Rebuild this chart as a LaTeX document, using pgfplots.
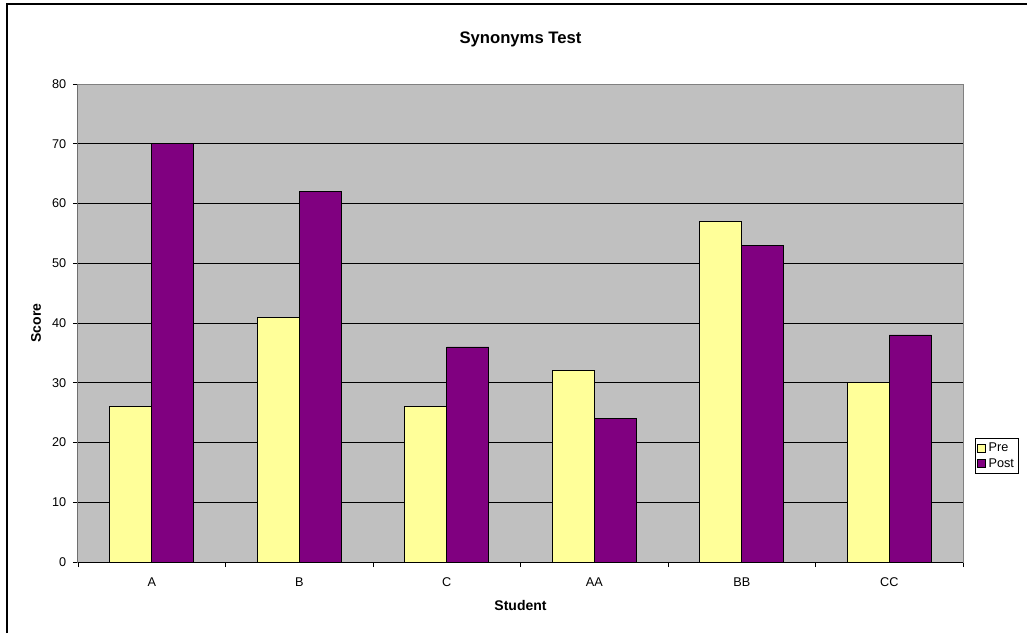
\documentclass[border=0pt]{standalone}
\usepackage{fontspec}
\setmainfont{Liberation Sans}
\usepackage{pgfplots}
\pgfplotsset{compat=1.18}
\definecolor{preY}{HTML}{FFFF99}
\definecolor{postP}{HTML}{800080}
\definecolor{bgG}{HTML}{C0C0C0}
\begin{document}
\begin{tikzpicture}
\useasboundingbox (0,0) rectangle (770.25pt,474.75pt);
\draw[line width=1.5pt] (5.25pt,0pt) -- (5.25pt,471.75pt) -- (770.25pt,471.75pt);
\begin{axis}[
  at={(58.5pt,53.25pt)}, anchor=south west,
  scale only axis, width=663.75pt, height=358.5pt,
  xmin=-0.5, xmax=5.5, ymin=0, ymax=80,
  ytick={0,10,...,80},
  xtick={0,1,2,3,4,5},
  xticklabels={A,B,C,AA,BB,CC},
  minor xtick={-0.5,0.5,1.5,2.5,3.5,4.5,5.5},
  ybar=0pt, bar width=31.5pt,
  axis background/.style={fill=bgG},
  ymajorgrids, grid style={black, line width=0.6pt},
  axis line style={draw=gray, line width=0.75pt},
  tick pos=left,
  tick align=outside,
  major tick length=3.75pt, minor tick length=3.75pt,
  major x tick style={draw=none},
  minor x tick style={black, line width=0.6pt},
  y tick style={black, line width=0.6pt},
  /pgf/number format/assume math mode=true,
  tick label style={font=\fontsize{9.5}{11}\selectfont},
  yticklabel style={xshift=-1.5pt},
  xticklabel style={yshift=-4.5pt},
  title={\bfseries Synonyms Test},
  title style={font=\fontsize{12.5}{14}\selectfont, at={(0.5,1)}, anchor=center, yshift=27.75pt},
  xlabel={\bfseries Student},
  ylabel={\bfseries Score},
  label style={font=\fontsize{10.5}{12}\selectfont},
  xlabel style={at={(0.5,-0.09)}, anchor=center},
  ylabel style={at={(-0.0475,0.5)}, anchor=center, rotate=0},
  legend style={at={(1.0136,0.2218)}, anchor=west, draw=black, fill=white,
    font=\fontsize{9.5}{11}\selectfont, inner sep=1.5pt, row sep=-0.5pt,
    cells={anchor=west}},
  legend image code/.code={\draw[#1, draw=black, line width=0.5pt] (0pt,-3pt) rectangle (6pt,3pt);},
]
\addplot[fill=preY, draw=black, line width=0.6pt] coordinates {(0,26) (1,41) (2,26) (3,32) (4,57) (5,30)};
\addplot[fill=postP, draw=black, line width=0.6pt] coordinates {(0,70) (1,62) (2,36) (3,24) (4,53) (5,38)};
\legend{Pre,Post}
\draw[black, line width=0.75pt] (rel axis cs:0,1) -- (rel axis cs:0,0) -- (rel axis cs:1,0);
\end{axis}
\end{tikzpicture}
\end{document}
